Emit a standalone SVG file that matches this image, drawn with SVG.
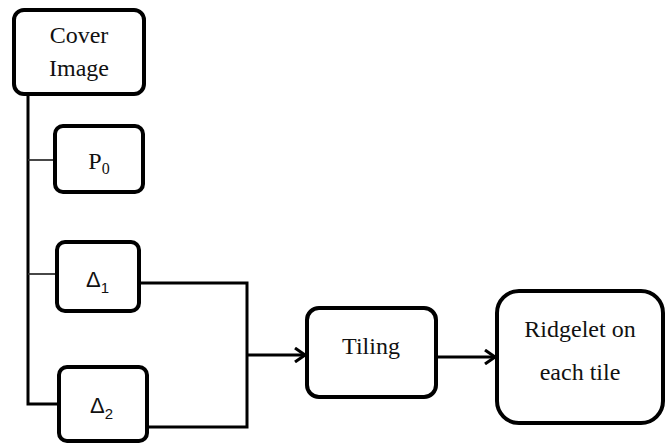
<svg xmlns="http://www.w3.org/2000/svg" width="667" height="445" viewBox="0 0 667 445">
<style>
.box{fill:#fff;stroke:#000;stroke-width:4}
.t{font-size:24px;fill:#111;text-anchor:middle;font-family:"Liberation Serif","Times New Roman",serif}
.d{font-size:22px;fill:#111;font-family:"Liberation Sans",Arial,sans-serif}
.c{fill:none;stroke:#000;stroke-width:3}
.thin{fill:none;stroke:#333;stroke-width:1.8}
</style>
<defs>
<marker id="arr" markerWidth="14" markerHeight="16" refX="12" refY="8" orient="auto" markerUnits="userSpaceOnUse">
<path d="M2,1 L12,8 L2,15" fill="none" stroke="#000" stroke-width="3"/>
</marker>
</defs>
<rect width="667" height="445" fill="#fff"/>
<g id="connectors">
<path class="c" d="M28,94 V404 H59"/>
<path class="thin" d="M28,160 H55"/>
<path class="thin" d="M28,274 H57"/>
<path class="c" d="M139,283 H247 V427 H147"/>
<path class="c" d="M247,355 H305" marker-end="url(#arr)"/>
<path class="c" d="M436,357 H495" marker-end="url(#arr)"/>
</g>
<g id="cover">
<rect class="box" x="14" y="10" width="130" height="84" rx="10"/>
<text class="t" x="79" y="43">Cover</text>
<text class="t" x="79" y="76">Image</text>
</g>
<g id="p0">
<rect class="box" x="55" y="126" width="88" height="66" rx="8"/>
<text class="t" x="99" y="169">P<tspan font-size="16" dy="5">0</tspan></text>
</g>
<g id="tiling">
<rect class="box" x="307" y="308" width="129" height="89" rx="12"/>
<text class="t" x="371" y="354">Tiling</text>
</g>
<g id="ridgelet">
<rect class="box" x="497" y="291" width="166" height="132" rx="22"/>
<text class="t" x="580" y="337">Ridgelet on</text>
<text class="t" x="580" y="380">each tile</text>
</g>
<g id="delta1">
<rect class="box" x="57" y="242" width="82" height="69" rx="8"/>
<text class="d" x="86" y="287">Δ<tspan font-size="15" dy="6">1</tspan></text>
</g>
<g id="delta2">
<rect class="box" x="59" y="367" width="88" height="74" rx="8"/>
<text class="d" x="90" y="413">Δ<tspan font-size="15" dy="6">2</tspan></text>
</g>
</svg>
